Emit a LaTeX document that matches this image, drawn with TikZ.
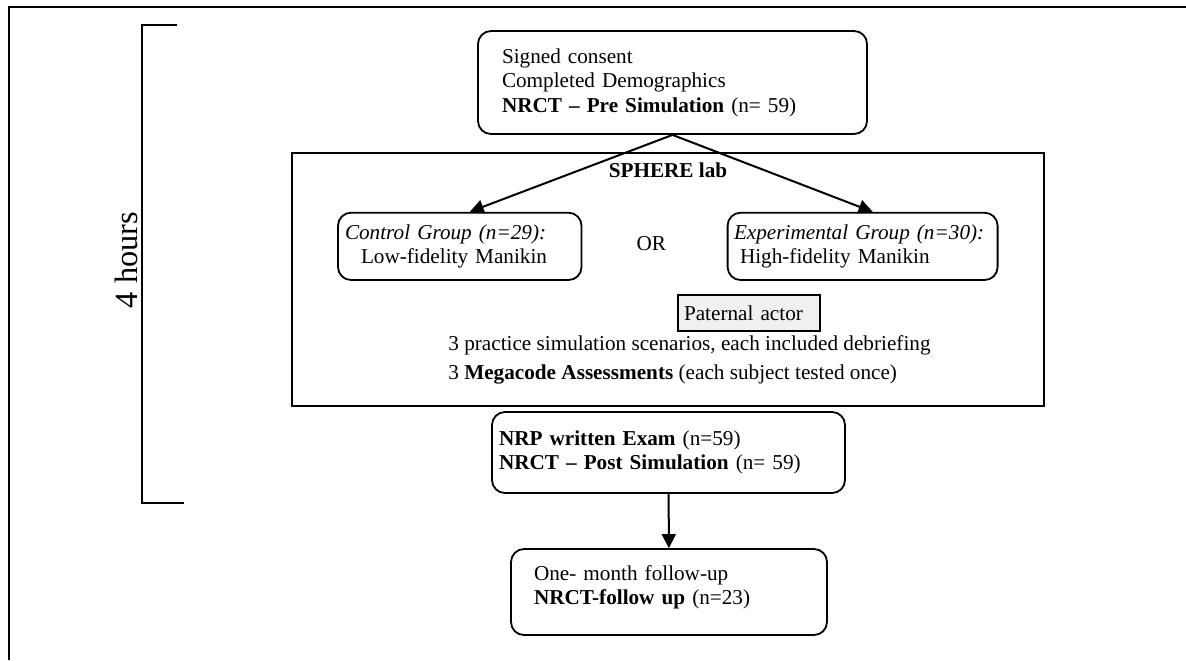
\documentclass[tikz,border=0pt]{standalone}
\usepackage{fontspec}
\setmainfont{Liberation Serif}
\usetikzlibrary{arrows.meta}
\tikzset{
  stage/.style={draw, line width=0.9pt, rounded corners=6.5pt, align=left, inner ysep=0pt},
  flow/.style={line width=1pt, -{Triangle[length=7pt,width=7pt]}}
}
\begin{document}
\begin{tikzpicture}[x=0.5pt, y=-0.5pt, font=\fontsize{10.6}{12.2}\selectfont]
\useasboundingbox (0,0) rectangle (1186,660);
\draw[line width=1pt] (9,660) -- (9,7) -- (1186,7);
\draw[line width=1pt] (177,24.5) -- (142,24.5) -- (142,503) -- (184,503);
\node[rotate=90, anchor=base, font=\fontsize{16.2}{19}\selectfont] (hours) at (137,260) {4 hours};
\node[draw, line width=0.9pt, minimum width=376pt, minimum height=126.5pt] (lab) at (668,279.5) {};
\node[anchor=base] (labname) at (668,177) {\textbf{SPHERE lab}};
\node[stage, minimum width=194.5pt, minimum height=51.5pt, inner xsep=12pt, text width=170.5pt] (pre) at (672.5,82.5) {Signed consent\\ Completed Demographics\\ \textbf{NRCT -- Pre Simulation} (n= 59)};
\node[stage, minimum width=121.75pt, minimum height=33.65pt, inner xsep=3.5pt, text width=114.75pt] (ctrl) at (459.75,246.35) {\textit{Control Group (n=29):}\\ \hspace*{8pt}Low-fidelity Manikin};
\node[stage, minimum width=135pt, minimum height=33.65pt, inner xsep=3.2pt, text width=128.6pt] (expt) at (862.6,246.35) {\textit{Experimental Group (n=30):}\\ \hspace*{3pt}High-fidelity Manikin};
\node[anchor=base] (or) at (651.4,250) {OR};
\node[draw, line width=0.8pt, fill=gray!12, minimum width=71pt, minimum height=18pt, inner xsep=3pt, text width=65pt, align=left] (actor) at (749,313) {Paternal actor};
\node[anchor=base west, inner sep=0pt] (practice) at (448,350) {3 practice simulation scenarios, each included debriefing};
\node[anchor=base west, inner sep=0pt] (megacode) at (448,379) {3 \textbf{Megacode Assessments} (each subject tested once)};
\node[stage, minimum width=176.5pt, minimum height=40.5pt, inner xsep=3.5pt, text width=169.5pt] (post) at (668.5,452.5) {\textbf{NRP written Exam} (n=59)\\ \textbf{NRCT -- Post Simulation} (n= 59)};
\node[stage, minimum width=158pt, minimum height=43pt, inner xsep=11.5pt, text width=135pt] (followup) at (669,592) {One- month follow-up\\ \textbf{NRCT-follow up} (n=23)\rule[-6.8pt]{0pt}{0pt}};
\draw[flow] (pre.south) -- ([xshift=5pt]ctrl.north);
\draw[flow] (pre.south) -- ([xshift=5pt]expt.north);
\draw[flow] (post) -- (followup);
\end{tikzpicture}
\end{document}
